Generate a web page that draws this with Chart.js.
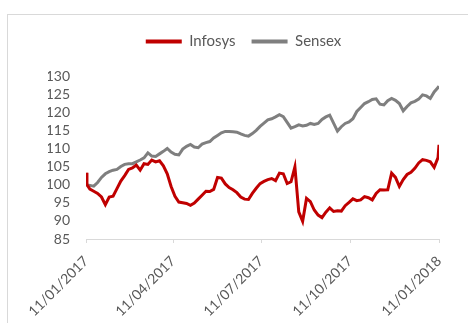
<!DOCTYPE html>
<html>
<head>
<meta charset="utf-8">
<script src="https://cdn.jsdelivr.net/npm/chart.js@4.4.1/dist/chart.umd.min.js"></script>
<style>
  html, body { margin: 0; padding: 0; background: #fff; overflow: hidden; }
  #wrap { position: relative; width: 468px; height: 323px; }
  #frame { position: absolute; left: 7px; top: 14px; width: 520px; height: 400px; border: 1px solid #d9d9d9; }
  #myChart { position: absolute; left: 0; top: 0; }
</style>
</head>
<body>
<div id="wrap">
  <div id="frame"></div>
  <canvas id="myChart" width="468" height="323"></canvas>
</div>
<script>
// dates (every ~4 days)
const dates = [
  '2017-01-11','2017-01-12','2017-01-15','2017-01-19','2017-01-23','2017-01-27','2017-01-31',
  '2017-02-04','2017-02-08','2017-02-12','2017-02-16','2017-02-20','2017-02-24','2017-02-28',
  '2017-03-04','2017-03-08','2017-03-12','2017-03-16','2017-03-20','2017-03-24','2017-03-28',
  '2017-04-01','2017-04-05','2017-04-09','2017-04-13','2017-04-17','2017-04-21','2017-04-25','2017-04-29',
  '2017-05-03','2017-05-07','2017-05-11','2017-05-15','2017-05-19','2017-05-23','2017-05-27','2017-05-31',
  '2017-06-04','2017-06-08','2017-06-12','2017-06-16','2017-06-20','2017-06-24','2017-06-28',
  '2017-07-02','2017-07-06','2017-07-10','2017-07-14','2017-07-18','2017-07-22','2017-07-26','2017-07-30',
  '2017-08-03','2017-08-07','2017-08-11','2017-08-15','2017-08-19','2017-08-23','2017-08-27','2017-08-31',
  '2017-09-04','2017-09-08','2017-09-12','2017-09-16','2017-09-20','2017-09-24','2017-09-28',
  '2017-10-02','2017-10-06','2017-10-10','2017-10-14','2017-10-18','2017-10-22','2017-10-26','2017-10-30',
  '2017-11-03','2017-11-07','2017-11-11','2017-11-15','2017-11-19','2017-11-23','2017-11-27',
  '2017-12-01','2017-12-05','2017-12-09','2017-12-13','2017-12-17','2017-12-21','2017-12-25','2017-12-29',
  '2018-01-02','2018-01-06','2018-01-10','2018-01-11'
];

const infosys = [
  103.3, 100.0, 98.8, 98.2, 97.6, 96.6, 94.5,
  96.6, 96.8, 98.9, 101.0, 102.5, 104.2, 104.6,
  105.4, 104.0, 105.8, 105.6, 106.8, 106.3, 106.6,
  105.2, 103.0, 99.5, 96.8, 95.2, 95.0, 94.8, 94.3,
  94.9, 96.0, 97.1, 98.2, 98.1, 98.7, 102.0, 101.8,
  100.2, 99.2, 98.6, 97.8, 96.6, 96.0, 95.9,
  97.6, 99.0, 100.3, 100.9, 101.4, 101.7, 101.1, 103.2,
  103.0, 100.3, 100.8, 104.9, 92.5, 89.9, 96.2, 95.3,
  93.0, 91.6, 90.9, 92.4, 93.6, 92.6, 92.8,
  92.7, 94.2, 95.1, 96.1, 95.6, 95.8, 96.7, 96.4,
  95.8, 97.6, 98.6, 98.5, 98.6, 103.2, 102.0,
  99.5, 101.4, 102.8, 103.4, 104.5, 106.0, 106.9, 106.7,
  106.3, 104.8, 107.5, 111.0
];

const sensex = [
  100.0, 100.0, 99.8, 99.6, 100.6, 102.0, 103.0,
  103.6, 104.0, 104.2, 105.0, 105.6, 105.8, 105.8,
  106.3, 106.8, 107.4, 108.8, 107.9, 107.8, 108.5,
  109.2, 110.0, 109.0, 108.4, 108.2, 109.8, 110.6, 111.1,
  110.4, 110.2, 111.2, 111.6, 111.9, 112.9, 113.6, 114.3,
  114.7, 114.7, 114.6, 114.5, 114.0, 113.6, 113.4,
  114.1, 115.0, 116.1, 117.0, 117.9, 118.2, 118.7, 119.3,
  118.8, 117.2, 115.6, 116.0, 116.5, 116.2, 116.4, 116.9,
  116.6, 116.9, 118.0, 118.7, 119.2, 117.0, 114.8,
  116.0, 116.9, 117.3, 118.2, 120.2, 121.3, 122.4, 122.9,
  123.5, 123.7, 122.2, 122.0, 123.2, 123.8, 123.3,
  122.4, 120.4, 121.6, 122.6, 123.0, 123.6, 124.8, 124.5,
  123.8, 125.6, 126.8, 127.2
];

const tickDates = ['2017-01-11', '2017-04-11', '2017-07-11', '2017-10-11', '2018-01-11'];
const tickLabels = ['11/01/2017', '11/04/2017', '11/07/2017', '11/10/2017', '11/01/2018'];

const DAY = 86400000;
const start = Date.parse(dates[0]);
const toDay = (s) => (Date.parse(s) - start) / DAY;

const points = (vals) => vals.map((v, i) => ({ x: toDay(dates[i]), y: v }));

// extra room between legend and plot
const legendGap = {
  id: 'legendGap',
  beforeInit(chart) {
    const fit = chart.legend.fit;
    chart.legend.fit = function () {
      fit.call(this);
      this.height += 17;
    };
  }
};

const data = {
  datasets: [
    {
      label: 'Infosys',
      data: points(infosys),
      borderColor: '#c00000',
      backgroundColor: '#c00000',
      borderWidth: 3,
      pointRadius: 0,
      tension: 0
    },
    {
      label: 'Sensex',
      data: points(sensex),
      borderColor: '#7f7f7f',
      backgroundColor: '#7f7f7f',
      borderWidth: 3,
      pointRadius: 0,
      tension: 0
    }
  ]
};

const config = {
  type: 'line',
  data,
  options: {
    responsive: false,
    animation: false,
    layout: { padding: { left: 48, right: 29, top: 18, bottom: 0 } },
    plugins: {
      tooltip: { enabled: false },
      legend: {
        position: 'top',
        labels: {
          font: { family: 'Lato', size: 15 },
          color: '#595959',
          boxWidth: 36,
          boxHeight: 4,
          padding: 16,
          generateLabels(chart) {
            return chart.data.datasets.map((ds, i) => ({
              text: ds.label,
              fillStyle: ds.borderColor,
              strokeStyle: ds.borderColor,
              lineWidth: 0,
              fontColor: '#595959',
              datasetIndex: i
            }));
          }
        }
      }
    },
    scales: {
      x: {
        type: 'linear',
        min: 0,
        max: toDay(tickDates[tickDates.length - 1]),
        afterBuildTicks(scale) {
          scale.ticks = tickDates.map((d) => ({ value: toDay(d) }));
        },
        afterFit(scale) { scale.height = 84; },
        ticks: {
          autoSkip: false,
          minRotation: 45,
          maxRotation: 45,
          padding: 10,
          font: { family: 'Lato', size: 14 },
          color: '#595959',
          callback(value) {
            const i = tickDates.findIndex((d) => toDay(d) === value);
            return i >= 0 ? tickLabels[i] : '';
          }
        },
        grid: {
          drawOnChartArea: false,
          drawTicks: true,
          tickLength: 4,
          color: '#d9d9d9'
        },
        border: { color: '#d9d9d9', width: 1 }
      },
      y: {
        min: 85,
        max: 130,
        afterFit(scale) { scale.width = 38; },
        ticks: {
          stepSize: 5,
          autoSkip: false,
          padding: 16,
          font: { family: 'Lato', size: 14 },
          color: '#595959'
        },
        grid: { display: false, drawTicks: false },
        border: { display: false }
      }
    }
  },
  plugins: [legendGap]
};

const myChart = new Chart(document.getElementById('myChart'), config);
</script>
</body>
</html>
